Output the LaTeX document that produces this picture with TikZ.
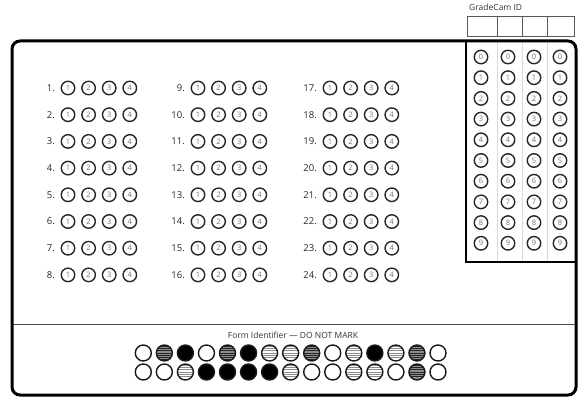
\documentclass[tikz,border=0pt]{standalone}
\usepackage{fontspec}
\setmainfont{Open Sans}
\usepackage{tikz}

\tikzset{
	bubble/.style={circle, draw=black!85, line width=1.4pt, minimum size=13.5pt, inner sep=0pt,
		text=black!55, font=\fontsize{7.5}{8}\selectfont},
	qlabel/.style={anchor=east, inner sep=0pt, text=black!85, font=\fontsize{9.5}{10}\selectfont},
	formbub/.style={circle, draw=black!90, line width=1.4pt, minimum size=16pt, inner sep=0pt},
	fb0/.style={fill=white},
	fb1/.style={fill=white, path picture={
		\foreach \k in {-3,...,3}
			\draw[black!45, line width=0.7pt] ([yshift=\k*2.3pt]path picture bounding box.west) -- ([yshift=\k*2.3pt]path picture bounding box.east);}},
	fb2/.style={fill=black!45, path picture={
		\foreach \k in {-3,...,3}
			\draw[black!85, line width=0.8pt] ([yshift=\k*2.3pt]path picture bounding box.west) -- ([yshift=\k*2.3pt]path picture bounding box.east);}},
	fb3/.style={fill=black},
}

\begin{document}
\begin{tikzpicture}[x=1pt, y=-1pt]
		\useasboundingbox (0,0) rectangle (582,401);
		% GradeCam ID boxes
		\node[anchor=west, inner sep=0pt, text=black!80, font=\fontsize{8.5}{9}\selectfont] (idtitle) at (469,7) {GradeCam ID};
		\draw[black!65, line width=0.8pt] (467,16) rectangle (574,36);
		\foreach \x in {497,522,547}
			\draw[black!65, line width=0.8pt] (\x,16) -- (\x,36);
		% ID columns
		\foreach \x in {497,522,547}
			\draw[black!15, line width=0.8pt] (\x,41) -- (\x,262);
		\draw[line width=2pt] (466,41) -- (466,262) -- (576,262);
		\foreach \c/\x in {1/481,2/508,3/534,4/560}
			\foreach \d in {0,...,9}
				\node[bubble] (id\c-\d) at (\x, 57+\d*20.7) {\d};
		% questions
		\foreach \xa/\first in {68/1, 198/9, 330/17} {
			\foreach \row in {0,...,7} {
				\pgfmathtruncatemacro\q{\first+\row}
				\node[qlabel] (q\q) at (\xa-13, 88+\row*26.7) {\q.};
				\foreach \opt in {1,...,4}
					\node[bubble] (q\q-\opt) at (\xa+\opt*20.6-20.6, 88+\row*26.7) {\opt};
			}
		}
		% form identifier
		\draw[black!70, line width=0.8pt] (12,324) -- (576,324);
		\node[text=black!80, font=\fontsize{8.5}{9}\selectfont] (formtitle) at (293,335) {Form Identifier — DO NOT MARK};
		\foreach \v [count=\i] in {0,2,3,0,2,3,1,1,2,0,1,3,1,2,0}
			\node[formbub, fb\v] (fa\i) at (143.3+\i*21.05-21.05, 353) {};
		\foreach \v [count=\i] in {0,0,1,3,3,3,3,1,0,0,1,1,0,2,0}
			\node[formbub, fb\v] (fb\i) at (143.3+\i*21.05-21.05, 372) {};
		% frame
		\draw[line width=3pt, rounded corners=8pt] (12,41) rectangle (576,395);
	\end{tikzpicture}
\end{document}
